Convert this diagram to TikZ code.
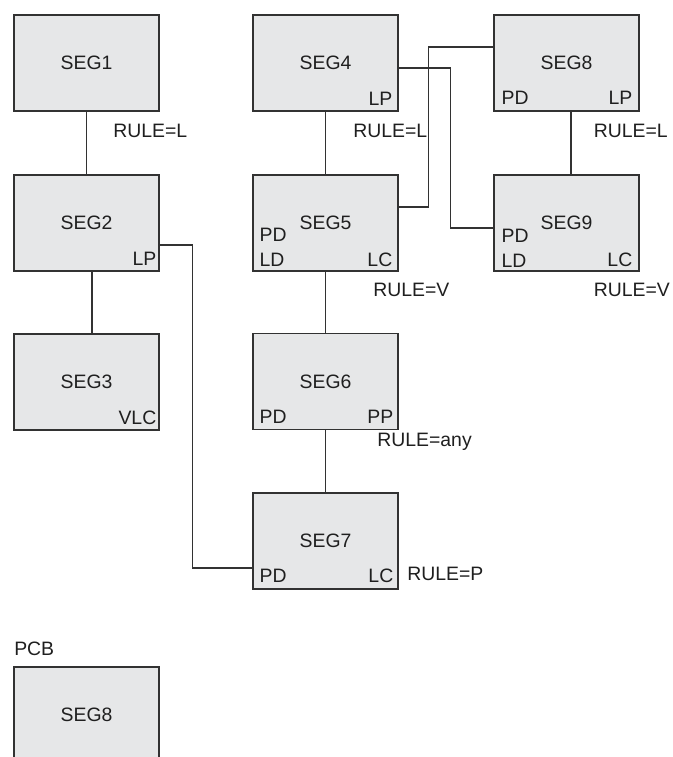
\documentclass[tikz,border=0pt]{standalone}
\usepackage{fontspec}
\setmainfont{Liberation Sans}
\usetikzlibrary{calc}
\definecolor{segfill}{RGB}{230,231,232}
\definecolor{segline}{RGB}{50,50,50}

\begin{document}
\begin{tikzpicture}[
			x=0.025cm, y=-0.025cm,
			every node/.style={font=\fontsize{13.8}{16}\selectfont, text=black!88},
			seg/.style={draw=segline, fill=segfill, line width=0.8pt, minimum width=3.625cm, minimum height=2.4cm, inner sep=0pt},
			tag/.style={inner sep=0pt},
			wire/.style={draw=segline, line width=0.8pt}
			]
			\path[use as bounding box, clip] (0,0) rectangle (672,757);
			\node[seg] (seg1) at (86.5,63) {SEG1};
			\node[seg] (seg2) at (86.5,223) {SEG2};
			\node[seg] (seg3) at (86.5,382) {SEG3};
			\node[seg] (seg4) at (325.5,63) {SEG4};
			\node[seg] (seg5) at (325.5,223) {SEG5};
			\node[seg] (seg6) at (325.5,381.5) {SEG6};
			\node[seg] (seg7) at (325.5,541) {SEG7};
			\node[seg] (seg8) at (566.5,63) {SEG8};
			\node[seg] (seg9) at (566.5,223) {SEG9};
			\node[tag, anchor=base west] (pcb) at (14,655) {PCB};
			\node[seg] (pcbseg8) at (86.5,715) {SEG8};
			\node[tag, anchor=base east] (seg2lp) at ($(seg2.south east)+(-3,-6)$) {LP};
			\node[tag, anchor=base east] (seg3vlc) at ($(seg3.south east)+(-3,-6)$) {VLC};
			\node[tag, anchor=base east] (seg4lp) at ($(seg4.south east)+(-6,-6)$) {LP};
			\node[tag, anchor=base west] (seg5ld) at ($(seg5.south west)+(7,-5)$) {LD};
			\node[tag, anchor=base west] (seg5pd) at ($(seg5.south west)+(7,-30)$) {PD};
			\node[tag, anchor=base east] (seg5lc) at ($(seg5.south east)+(-6,-5)$) {LC};
			\node[tag, anchor=base west] (seg6pd) at ($(seg6.south west)+(7,-7)$) {PD};
			\node[tag, anchor=base east] (seg6pp) at ($(seg6.south east)+(-5,-7)$) {PP};
			\node[tag, anchor=base west] (seg7pd) at ($(seg7.south west)+(7,-7)$) {PD};
			\node[tag, anchor=base east] (seg7lc) at ($(seg7.south east)+(-5,-7)$) {LC};
			\node[tag, anchor=base west] (seg8pd) at ($(seg8.south west)+(8,-7)$) {PD};
			\node[tag, anchor=base east] (seg8lp) at ($(seg8.south east)+(-7,-7)$) {LP};
			\node[tag, anchor=base west] (seg9ld) at ($(seg9.south west)+(8,-4)$) {LD};
			\node[tag, anchor=base west] (seg9pd) at ($(seg9.south west)+(8,-29)$) {PD};
			\node[tag, anchor=base east] (seg9lc) at ($(seg9.south east)+(-7,-5)$) {LC};
			\node[tag, anchor=base west] (rule1) at ($(seg1.south east)+(-46.5,26)$) {RULE=L};
			\node[tag, anchor=base west] (rule4) at ($(seg4.south east)+(-45.5,26)$) {RULE=L};
			\node[tag, anchor=base west] (rule8) at ($(seg8.south east)+(-46,26)$) {RULE=L};
			\node[tag, anchor=base west] (rule5) at ($(seg5.south east)+(-25.5,25)$) {RULE=V};
			\node[tag, anchor=base west] (rule9) at ($(seg9.south east)+(-46,25)$) {RULE=V};
			\node[tag, anchor=base west] (rule6) at ($(seg6.south east)+(-21.5,16)$) {RULE=any};
			\node[tag, anchor=base west] (rule7) at ($(seg7.south east)+(8.5,-9)$) {RULE=P};
			\draw[wire] (seg1) -- (seg2);
			\draw[wire] ($(seg2.south)+(5.5,0)$) -- ($(seg3.north)+(5.5,0)$);
			\draw[wire] (seg4) -- (seg5);
			\draw[wire] (seg5) -- (seg6);
			\draw[wire] (seg6) -- (seg7);
			\draw[wire] ($(seg8.south)+(4.5,0)$) -- ($(seg9.north)+(4.5,0)$);
			\draw[wire] ($(seg2.east)+(0,22)$) -- ++(33,0) |- ($(seg7.west)+(0,27)$);
			\draw[wire] ($(seg4.east)+(0,5)$) -- ++(52,0) |- ($(seg9.west)+(0,5)$);
			\draw[wire] ($(seg5.east)+(0,-16)$) -- ++(30,0) |- ($(seg8.west)+(0,-16)$);
		\end{tikzpicture}
\end{document}
